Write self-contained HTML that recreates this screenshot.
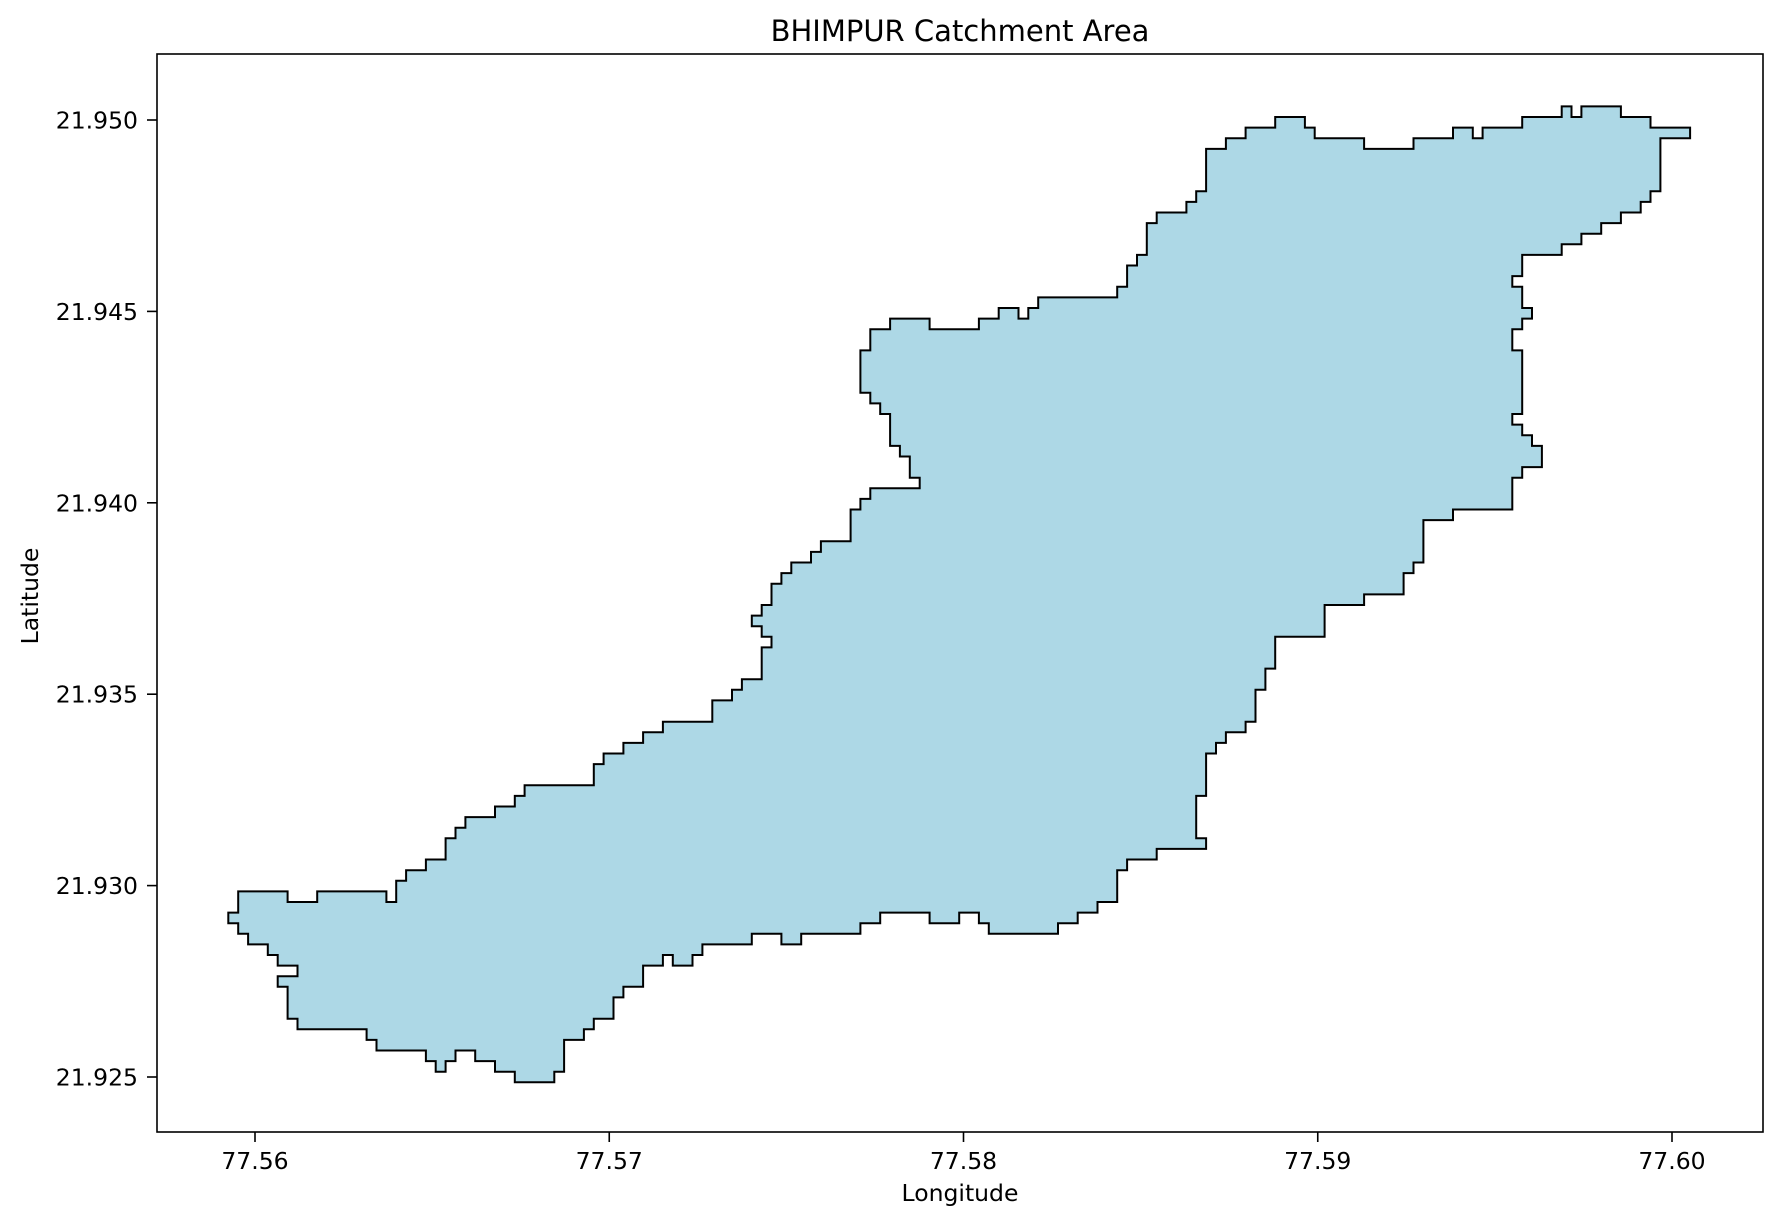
<!DOCTYPE html>
<html><head><meta charset="utf-8"><style>
html,body{margin:0;padding:0;background:#fff;}
svg{display:block;font-family:"DejaVu Sans","Liberation Sans",sans-serif;}
</style></head><body>
<svg id="chart" width="1781" height="1225" viewBox="0 0 1781 1225" xmlns="http://www.w3.org/2000/svg">
<rect width="1781" height="1225" fill="#fff"/>
<g id="plot"></g>
<rect x="157" y="54" width="1606" height="1078" fill="none" stroke="#000" stroke-width="1.6"/>
<g id="xticks"></g>
<g id="yticks"></g>
<text x="960" y="41" font-size="29" text-anchor="middle" fill="#000">BHIMPUR Catchment Area</text>
<text x="960" y="1201" font-size="23.5" text-anchor="middle" fill="#000">Longitude</text>
<text x="0" y="0" font-size="23.5" text-anchor="middle" fill="#000" transform="translate(38,596) rotate(-90)">Latitude</text>
</svg>
<script>
// Boundary vertices in raster-cell units offset from origin (77.56 E, 21.925 N)
const lonOrigin = 77.56;
const latOrigin = 21.925;
const lonCellDeg = 0.0002788;
const latCellDeg = 0.0002771;
const lonSec = [-2,3,3,6,6,13,13,14,14,15,15,17,17,19,19,20,20,21,21,24,24,26,26,27,27,34,34,35,35,37,37,39,39,41,41,46,46,48,48,49,49,51,51,52,52,51,51,50,50,51,51,52,52,53,53,54,54,56,56,57,57,60,60,61,61,62,62,67,67,66,66,65,65,64,64,63,63,62,62,61,61,62,62,64,64,68,68,73,73,75,75,77,77,78,78,79,79,87,87,88,88,89,89,90,90,91,91,94,94,95,95,96,96,98,98,100,100,103,103,106,106,107,107,112,112,117,117,121,121,123,123,124,124,128,128,132,132,133,133,134,134,138,138,141,141,145,145,142,142,141,141,140,140,138,138,136,136,134,134,132,132,128,128,127,127,128,128,129,129,128,128,127,127,128,128,127,127,128,128,129,129,130,130,128,128,127,127,121,121,118,118,117,117,116,116,112,112,108,108,103,103,102,102,101,101,100,100,98,98,97,97,96,96,95,95,96,96,91,91,88,88,87,87,85,85,83,83,81,81,74,74,73,73,71,71,68,68,63,63,61,61,55,55,53,53,50,50,45,45,44,44,42,42,41,41,39,39,37,37,36,36,34,34,33,33,31,31,30,30,26,26,24,24,22,22,20,20,19,19,18,18,17,17,12,12,11,11,4,4,3,3,2,2,4,4,2,2,1,1,-1,-1,-2,-2,-3,-3,-2];
const latSec = [17,17,16,16,17,17,16,16,18,18,19,19,20,20,22,22,23,23,24,24,25,25,26,26,27,27,29,29,30,30,31,31,32,32,33,33,35,35,36,36,37,37,40,40,41,41,42,42,43,43,44,44,46,46,47,47,48,48,49,49,50,50,53,53,54,54,55,55,56,56,58,58,59,59,62,62,63,63,64,64,68,68,70,70,71,71,70,70,71,71,72,72,71,71,72,72,73,73,74,74,76,76,77,77,80,80,81,81,82,82,83,83,87,87,88,88,89,89,90,90,89,89,88,88,87,87,88,88,89,89,88,88,89,89,90,90,91,91,90,90,91,91,90,90,89,89,88,88,83,83,82,82,81,81,80,80,79,79,78,78,77,77,75,75,74,74,72,72,71,71,70,70,68,68,62,62,61,61,60,60,59,59,57,57,56,56,53,53,52,52,48,48,47,47,45,45,44,44,41,41,38,38,36,36,33,33,32,32,31,31,30,30,26,26,22,22,21,21,20,20,19,19,16,16,15,15,14,14,13,13,14,14,15,15,14,14,15,15,14,14,13,13,12,12,13,13,12,12,11,11,10,10,11,11,10,10,8,8,7,7,5,5,4,4,3,3,0,0,-1,-1,0,0,1,1,2,2,1,1,0,0,1,1,2,2,3,3,4,4,5,5,8,8,9,9,10,10,11,11,12,12,13,13,14,14,15,15];
const xTicks = [77.56, 77.57, 77.58, 77.59, 77.60];
const xTickLabels = ["77.56", "77.57", "77.58", "77.59", "77.60"];
const yTicks = [21.925, 21.930, 21.935, 21.940, 21.945, 21.950];
const yTickLabels = ["21.925", "21.930", "21.935", "21.940", "21.945", "21.950"];

const NS = "http://www.w3.org/2000/svg";
function xScale(lon){ return 255 + (lon - 77.56) * 35425; }
function yScale(lat){ return 1077 - (lat - 21.925) * 38280; }

const pts = [];
for (let k = 0; k < lonSec.length; k++) {
  const lon = lonOrigin + (lonSec[k] + 0.3) * lonCellDeg;
  const lat = latOrigin + (latSec[k] + 0.5) * latCellDeg;
  pts.push(xScale(lon).toFixed(1) + "," + yScale(lat).toFixed(1));
}
const poly = document.createElementNS(NS, "polygon");
poly.setAttribute("points", pts.join(" "));
poly.setAttribute("fill", "#add8e6");
poly.setAttribute("stroke", "#000");
poly.setAttribute("stroke-width", "2");
poly.setAttribute("stroke-linejoin", "miter");


document.getElementById("plot").appendChild(poly);

const xg = document.getElementById("xticks");
xTicks.forEach((v, k) => {
  const x = xScale(v);
  const t = document.createElementNS(NS, "line");
  t.setAttribute("x1", x); t.setAttribute("x2", x);
  t.setAttribute("y1", 1132); t.setAttribute("y2", 1142);
  t.setAttribute("stroke", "#000"); t.setAttribute("stroke-width", "1.6");
  
  
  xg.appendChild(t);
  const l = document.createElementNS(NS, "text");
  l.setAttribute("x", x); l.setAttribute("y", 1169);
  l.setAttribute("font-size", "23.5"); l.setAttribute("text-anchor", "middle");
  l.textContent = xTickLabels[k];
  
  
  xg.appendChild(l);
});
const yg = document.getElementById("yticks");
yTicks.forEach((v, k) => {
  const y = yScale(v);
  const t = document.createElementNS(NS, "line");
  t.setAttribute("x1", 147); t.setAttribute("x2", 157);
  t.setAttribute("y1", y); t.setAttribute("y2", y);
  t.setAttribute("stroke", "#000"); t.setAttribute("stroke-width", "1.6");
  
  
  yg.appendChild(t);
  const l = document.createElementNS(NS, "text");
  l.setAttribute("x", 138); l.setAttribute("y", y + 8.5);
  l.setAttribute("font-size", "23.5"); l.setAttribute("text-anchor", "end");
  l.textContent = yTickLabels[k];
  
  
  yg.appendChild(l);
});
</script>
</body></html>
